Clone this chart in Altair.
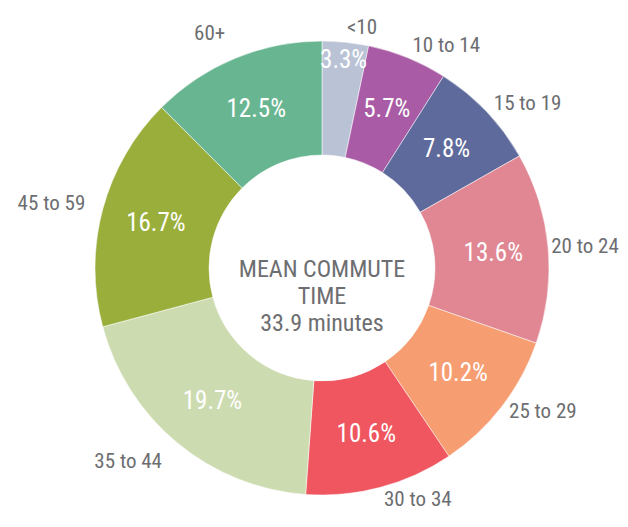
import altair as alt
import pandas as pd

categories = ["<10", "10 to 14", "15 to 19", "20 to 24", "25 to 29",
              "30 to 34", "35 to 44", "45 to 59", "60+"]
shares = [3.3, 5.7, 7.8, 13.6, 10.2, 10.6, 19.7, 16.7, 12.5]
colors = ["#bac3d6", "#a95ba5", "#5f6a9c", "#e08793", "#f69d72",
          "#ef5660", "#cddbb0", "#9aae3c", "#68b591"]
center_lines = ["MEAN COMMUTE", "TIME", "33.9 minutes"]

df = pd.DataFrame({
    "cat": categories,
    "share": shares,
    "idx": list(range(len(categories))),
    "pct": [f"{s:.1f}%" for s in shares],
})

FONT = "Roboto Condensed, Liberation Sans Narrow, Roboto, sans-serif"
GREY = "#6d6e71"
CX, CY = 314, 260
R_OUT, R_IN = 227, 113

src = (alt.Chart(df)
       .transform_joinaggregate(total="sum(share)")
       .transform_window(cum="sum(share)", sort=[alt.SortField("idx")])
       .transform_calculate(start="datum.cum - datum.share",
                            mid="datum.cum - datum.share / 2")
       .transform_calculate(ang="datum.mid / datum.total * 2 * PI",
                            right="datum.mid < datum.total / 2")
       .transform_calculate(
           lr="(datum.right ? 229 : 242) + 12 * abs(cos(datum.ang))",
           pr="datum.share < 5 ? 209 : 172"))

theta_scale = alt.Scale(domain=[0, sum(shares)], range=[0, 6.283185307179586])

arcs = src.mark_arc(outerRadius=R_OUT, innerRadius=R_IN, stroke="white",
                    strokeWidth=0.5).encode(
    theta=alt.Theta("start:Q", scale=theta_scale),
    theta2="cum:Q",
    x=alt.value(CX), y=alt.value(CY),
    color=alt.Color("cat:N", scale=alt.Scale(domain=categories, range=colors),
                    legend=None),
)

def txt(filt, rfield, color, align, field, size):
    return src.transform_filter(filt).mark_text(
        font=FONT, fontSize=size, color=color,
        align=align, baseline="middle").encode(
        theta=alt.Theta("mid:Q", scale=theta_scale),
        radius=alt.Radius(f"{rfield}:Q", scale=None),
        x=alt.value(CX), y=alt.value(CY),
        text=f"{field}:N")

pcts = txt("true", "pr", "white", "center", "pct", 25)
lab_right = txt("datum.right", "lr", GREY, "left", "cat", 21)
lab_left = txt("!datum.right", "lr", GREY, "right", "cat", 21)

center = alt.Chart(pd.DataFrame({"t": ["\n".join(center_lines)]})).mark_text(
    font=FONT, fontSize=24, color=GREY, align="center", baseline="middle",
    lineBreak="\n", lineHeight=27).encode(
    text="t:N", x=alt.value(CX), y=alt.value(CY + 2))

chart = alt.layer(arcs, pcts, lab_right, lab_left, center).properties(
    width=612, height=511, padding=0, autosize=alt.AutoSizeParams(type="none")
).configure_view(stroke=None)

chart.save("out.html", embed_options={"renderer": "svg", "actions": False})
